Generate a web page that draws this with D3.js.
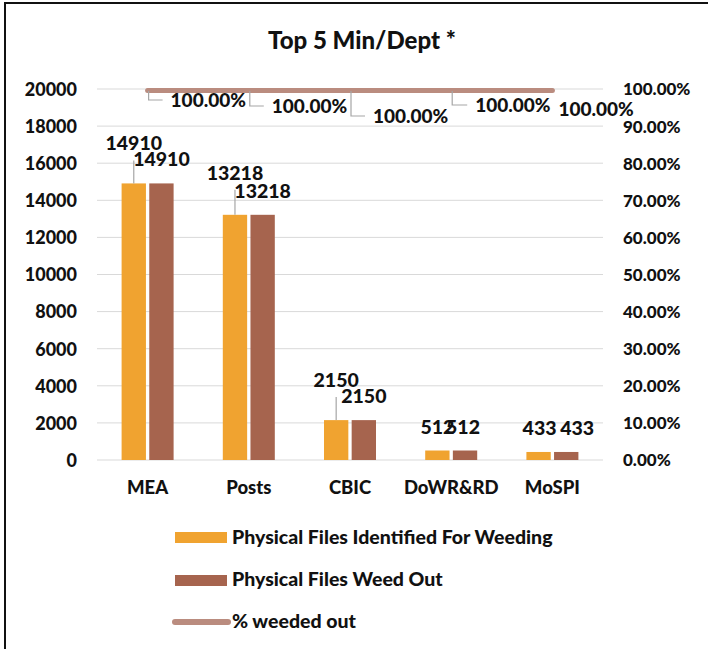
<!DOCTYPE html>
<html>
<head>
<meta charset="utf-8">
<script src="https://cdn.jsdelivr.net/npm/d3@7"></script>
<style>
  body { margin: 0; background: #fff; }
  svg text { font-family: Lato, "Open Sans", sans-serif; font-weight: 900; fill: #111; }
</style>
</head>
<body>
<div id="chart"></div>
<script>
// chart data
var categories = ["MEA", "Posts", "CBIC", "DoWR&RD", "MoSPI"];
var identified = [14910, 13218, 2150, 512, 433];
var weededOut = [14910, 13218, 2150, 512, 433];
var pctWeeded = [1, 1, 1, 1, 1];
var leftTicks = [0, 2000, 4000, 6000, 8000, 10000, 12000, 14000, 16000, 18000, 20000];
var rightTicks = [0, 0.1, 0.2, 0.3, 0.4, 0.5, 0.6, 0.7, 0.8, 0.9, 1];
var seriesNames = ["Physical Files Identified For Weeding", "Physical Files Weed Out", "% weeded out"];

// label nudges copied from the excel layout (pixels): [dx, lift, leader?]
var pctLabelShift = [[23, 18, true], [23, 24, true], [23, 34, true], [24, 23, true], [6, 27, false]];
var barLabelNudge = [
  [[0, 16], [0, 0]],
  [[0, 18], [0, 0]],
  [[0, 16], [0, 0]],
  [[0, 0], [-2, 0]],
  [[1, 0], [11, 0]]
];

var width = 708, height = 649;
var colors = { orange: "#F0A330", brown: "#A6644E", line: "#BA8C7F", grid: "#d9d9d9", leader: "#a6a6a6" };

var svg = d3.select("#chart").append("svg")
  .attr("width", width)
  .attr("height", height);

// outer frame (only left and top edges fall inside the picture)
svg.append("rect")
  .attr("x", 5).attr("y", 3)
  .attr("width", 740).attr("height", 700)
  .attr("fill", "none")
  .attr("stroke", "#111")
  .attr("stroke-width", 2);

svg.append("text")
  .attr("x", 362).attr("y", 49)
  .attr("text-anchor", "middle")
  .style("font-size", "24px")
  .text("Top 5 Min/Dept *");

var x = d3.scaleBand().domain(categories).range([97, 603]);
var xSub = d3.scaleBand().domain([0, 1]).range([x.bandwidth() / 2 - 26, x.bandwidth() / 2 + 26]).paddingInner(0.12);
var y = d3.scaleLinear().domain([0, 20000]).range([460, 89]);
var yPct = d3.scaleLinear().domain([0, 1]).range([460, 89]);

// gridlines
svg.append("g").selectAll("line").data(leftTicks).join("line")
  .attr("x1", 97).attr("x2", 603)
  .attr("y1", d => y(d)).attr("y2", d => y(d))
  .attr("stroke", colors.grid).attr("stroke-width", 1);

// left axis
var leftAxis = svg.append("g")
  .attr("transform", "translate(97,0)")
  .call(d3.axisLeft(y).tickValues(leftTicks).tickSize(0).tickPadding(20).tickFormat(d3.format("d")));
leftAxis.select(".domain").remove();
leftAxis.selectAll("text").style("font-size", "18px").attr("dy", "0.35em");

// right axis
var rightAxis = svg.append("g")
  .attr("transform", "translate(603,0)")
  .call(d3.axisRight(yPct).tickValues(rightTicks).tickSize(0).tickPadding(20).tickFormat(d3.format(".2%")));
rightAxis.select(".domain").remove();
rightAxis.selectAll("text").style("font-size", "17px").attr("dy", "0.35em");

// category axis
var bottomAxis = svg.append("g")
  .attr("transform", "translate(0,460)")
  .call(d3.axisBottom(x).tickSize(0).tickPadding(21));
bottomAxis.select(".domain").remove();
bottomAxis.selectAll("text").style("font-size", "18.5px");

// bars
var series = [identified, weededOut];
var barColors = [colors.orange, colors.brown];
series.forEach(function(vals, s) {
  svg.append("g").selectAll("rect").data(vals).join("rect")
    .attr("x", (d, i) => x(categories[i]) + xSub(s))
    .attr("y", d => y(d))
    .attr("width", xSub.bandwidth())
    .attr("height", d => y(0) - y(d))
    .attr("fill", barColors[s]);
});

// bar labels with leaders where excel pushed them up
series.forEach(function(vals, s) {
  var g = svg.append("g");
  vals.forEach(function(v, i) {
    var cx = x(categories[i]) + xSub(s) + xSub.bandwidth() / 2;
    var nudge = barLabelNudge[i][s];
    var base = y(v) - 17 - nudge[1];
    if (nudge[1] > 0) {
      g.append("line")
        .attr("x1", cx).attr("x2", cx)
        .attr("y1", y(v)).attr("y2", base + 10)
        .attr("stroke", colors.leader).attr("stroke-width", 1.2);
    }
    g.append("text")
      .attr("x", cx + nudge[0]).attr("y", base)
      .attr("text-anchor", "middle")
      .style("font-size", "19.5px")
      .text(v);
  });
});

// % weeded out line
var line = d3.line()
  .x((d, i) => x(categories[i]) + x.bandwidth() / 2)
  .y(d => yPct(d) + 1.5);
svg.append("path")
  .datum(pctWeeded)
  .attr("d", line)
  .attr("fill", "none")
  .attr("stroke", colors.line)
  .attr("stroke-width", 5)
  .attr("stroke-linecap", "round");

var pctLabels = svg.append("g");
pctWeeded.forEach(function(v, i) {
  var px = x(categories[i]) + x.bandwidth() / 2;
  var py = yPct(v);
  var sh = pctLabelShift[i];
  var tx = px + sh[0], ty = py + sh[1];
  if (sh[2]) {
    pctLabels.append("path")
      .attr("d", "M" + (px + 1) + "," + (py + 2) + "V" + (ty - 7) + "H" + (tx - 8))
      .attr("fill", "none")
      .attr("stroke", colors.leader).attr("stroke-width", 1.2);
  }
  pctLabels.append("text")
    .attr("x", tx).attr("y", ty)
    .style("font-size", "19px")
    .text(d3.format(".2%")(v));
});

// legend
var legend = svg.append("g");
legend.append("rect").attr("x", 175).attr("y", 532).attr("width", 52).attr("height", 11).attr("fill", colors.orange);
legend.append("rect").attr("x", 175).attr("y", 575).attr("width", 52).attr("height", 11).attr("fill", colors.brown);
legend.append("line").attr("x1", 175).attr("x2", 228).attr("y1", 622).attr("y2", 622)
  .attr("stroke", colors.line).attr("stroke-width", 6).attr("stroke-linecap", "round");
var legendY = [544, 586, 628];
legend.selectAll("text").data(seriesNames).join("text")
  .attr("x", 232)
  .attr("y", (d, i) => legendY[i])
  .style("font-size", "19.5px")
  .text(d => d);
</script>
</body>
</html>
